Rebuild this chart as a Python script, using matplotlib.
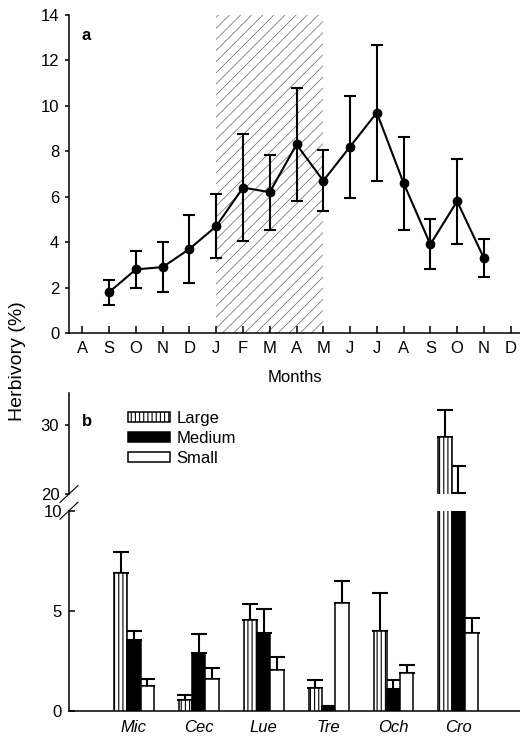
""" Herbivory by month (a) and by leaf size class per species (b). """

import numpy as np
from matplotlib import pyplot as plt
from matplotlib.lines import Line2D

plt.rcParams['font.family'] = ['Liberation Sans', 'DejaVu Sans']
plt.rcParams['font.size'] = 12
plt.rcParams['hatch.linewidth'] = 0.8

# Panel a: monthly herbivory
months = ['A', 'S', 'O', 'N', 'D', 'J', 'F', 'M', 'A', 'M',
          'J', 'J', 'A', 'S', 'O', 'N', 'D']
sampled = np.arange(1, 16)   # Sep .. Nov of the next year
herb_mean = np.array([1.8, 2.8, 2.9, 3.7, 4.7, 6.4, 6.2, 8.3, 6.7,
                      8.2, 9.7, 6.6, 3.9, 5.8, 3.3])
herb_hi = np.array([2.35, 3.6, 4.0, 5.2, 6.1, 8.75, 7.85, 10.8, 8.05,
                    10.45, 12.7, 8.65, 5.0, 7.65, 4.15])
herb_lo = np.array([1.25, 2.0, 1.8, 2.2, 3.3, 4.05, 4.55, 5.8, 5.35,
                    5.95, 6.7, 4.55, 2.8, 3.9, 2.45])
season = (5, 9)   # hatched period J..M

# Panel b: herbivory by leaf size
species = ['Mic', 'Cec', 'Lue', 'Tre', 'Och', 'Cro']
large = np.array([6.9, 0.55, 4.55, 1.15, 4.0, 28.2])
large_hi = np.array([7.95, 0.77, 5.32, 1.55, 5.88, 32.1])
medium = np.array([3.55, 2.9, 3.9, 0.25, 1.1, 20.1])
medium_hi = np.array([4.0, 3.82, 5.08, 0.25, 1.53, 24.0])
small = np.array([1.22, 1.57, 2.03, 5.38, 1.88, 3.88])
small_hi = np.array([1.57, 2.12, 2.68, 6.47, 2.28, 4.63])

fig = plt.figure(figsize=(5.2, 7.38), dpi=100)

# ---- a
axa = fig.add_axes([0.1327, 0.5488, 0.8673, 0.4309])
with plt.rc_context({'hatch.linewidth': 0.5}):
    axa.axvspan(season[0], season[1], facecolor='none', edgecolor='0.4',
                hatch='///', linewidth=0)
axa.errorbar(sampled, herb_mean, yerr=[herb_mean - herb_lo, herb_hi - herb_mean],
             color='k', lw=1.5, marker='o', ms=6, capsize=4.5, capthick=1.5,
             elinewidth=1.5)
axa.set_xlim(-0.5, 16.35)
axa.set_ylim(0, 14)
axa.set_xticks(np.arange(len(months)))
axa.set_xticklabels(months)
axa.set_yticks(np.arange(0, 15, 2))
for s in ['top', 'right']:
    axa.spines[s].set_visible(False)
for s in ['left', 'bottom']:
    axa.spines[s].set_linewidth(1.1)
axa.tick_params(axis='x', direction='in', length=5, width=1.1, pad=6)
axa.tick_params(axis='y', direction='out', length=3, width=1.1, pad=4)
axa.set_xlabel('Months', labelpad=10)
axa.text(0.028, 0.934, 'a', weight='bold', fontsize=12,
         transform=axa.transAxes, ha='left', va='center')

# ---- b (broken axis)
axb = fig.add_axes([0.1327, 0.0370, 0.8673, 0.2710])
axt = fig.add_axes([0.1327, 0.3306, 0.8673, 0.1373])
x = np.arange(len(species))
w = 0.205
series = [(large, large_hi, 'white', '||||', 'Large'),
          (medium, medium_hi, 'black', None, 'Medium'),
          (small, small_hi, 'white', None, 'Small')]
for ax in [axb, axt]:
    for k, (vals, hi, fc, hatch, lab) in enumerate(series):
        xx = x + (k - 1)*w
        ax.errorbar(xx, vals, yerr=[np.zeros_like(vals), hi - vals], fmt='none',
                    ecolor='k', elinewidth=1.5, capsize=6, capthick=1.5)
        ax.bar(xx, vals, w, facecolor=fc, edgecolor='k', hatch=hatch,
               linewidth=1.1, label=lab, zorder=3)
    ax.set_xlim(-1.0, 5.95)
    for s in ['top', 'right']:
        ax.spines[s].set_visible(False)
    ax.spines['left'].set_linewidth(1.1)
    ax.spines['bottom'].set_linewidth(1.1)

axb.set_ylim(0, 10)
axb.set_yticks([0, 5, 10])
axb.set_xticks(x)
axb.set_xticklabels(species, style='italic')
axb.tick_params(axis='x', length=0, pad=7)
axb.tick_params(axis='y', direction='in', length=4, width=1.1, pad=5)

axt.set_ylim(20, 34.6)
axt.set_yticks([20, 30])
axt.spines['bottom'].set_visible(False)
axt.set_xticks([])
axt.tick_params(axis='y', direction='out', length=3, width=1.1, pad=4)
axt.text(0.029, 0.72, 'b', weight='bold', fontsize=12,
         transform=axt.transAxes, ha='left', va='center')
axt.legend(loc='upper left', bbox_to_anchor=(0.131, 0.82), frameon=False,
           borderaxespad=0, borderpad=0, handlelength=2.5, handleheight=0.5,
           handletextpad=0.4, labelspacing=0.3)

# break marks on the y axis
for ax, yb in [(axb, 1.0), (axt, 0.0)]:
    hpx = ax.get_position().height*fig.get_figheight()*fig.dpi
    wpx = ax.get_position().width*fig.get_figwidth()*fig.dpi
    dx, dy = 9/wpx, 8.5/hpx
    ax.add_line(Line2D([-dx, dx], [yb - dy, yb + dy], color='k', lw=0.8,
                       transform=ax.transAxes, clip_on=False))

fig.text(18/520, 1 - 361/738, 'Herbivory (%)', rotation=90,
         ha='center', va='center', fontsize=14)

plt.savefig('out.png', dpi=100)
